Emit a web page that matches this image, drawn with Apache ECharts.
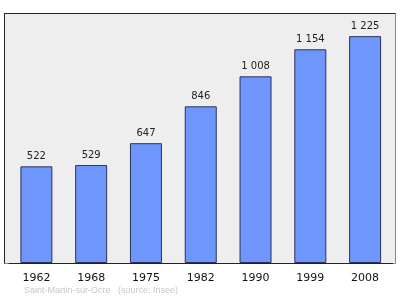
<!DOCTYPE html>
<html><head><meta charset="utf-8">
<script src="https://cdn.jsdelivr.net/npm/echarts@6/dist/echarts.min.js"></script>
<style>html,body{margin:0;padding:0;background:#fff}#c{width:400px;height:299px}</style>
</head><body><div id="c"></div>
<script>
var years = ['1962','1968','1975','1982','1990','1999','2008'];
var population = [522, 529, 647, 846, 1008, 1154, 1225];
var footer = 'Saint-Martin-sur-Ocre   (source: Insee)';

function fmt(v){ return String(v).replace(/\B(?=(\d{3})+(?!\d))/g, ' '); }

var chart = echarts.init(document.getElementById('c'), null, {renderer:'canvas'});
chart.setOption({
  animation:false,
  backgroundColor:'#ffffff',
  grid:{left:9, right:7.5, top:13, bottom:36},
  graphic:[
    {type:'rect', z:-10, shape:{x:4.5, y:13.5, width:391, height:250},
     style:{fill:'#eeeeee', stroke:'#888888', lineWidth:1}},
    {type:'polyline', z:-9, shape:{points:[[4.5,263.5],[4.5,13.5],[395.5,13.5]]},
     style:{stroke:'#222222', lineWidth:1, fill:null}},
    {type:'text', left:24, top:286, z:10,
     style:{text:footer, fill:'#c8c8c8', font:'9px "Liberation Sans", Arial, sans-serif'}}
  ],
  xAxis:{type:'category', data:years,
    axisLine:{show:true, lineStyle:{color:'#222', width:1}},
    axisTick:{show:false},
    axisLabel:{color:'#111', fontSize:11, fontFamily:'DejaVu Sans', margin:10}},
  yAxis:{type:'value', min:0, max:1350, show:false, splitLine:{show:false}},
  series:[{type:'bar', data:population, barWidth:32,
    itemStyle:{color:'#6f96fc', borderColor:'#2a3357', borderWidth:1},
    label:{show:true, position:'top', distance:5, color:'#222', fontSize:10,
      fontFamily:'DejaVu Sans', formatter:function(p){return fmt(p.value);}}}]
});
</script></body></html>
